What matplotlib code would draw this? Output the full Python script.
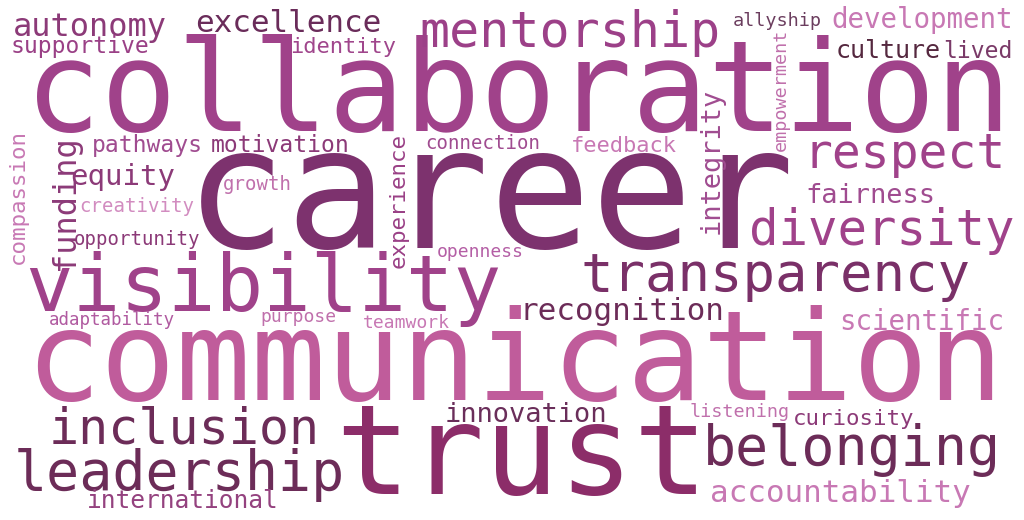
import matplotlib
matplotlib.use("Agg")
import matplotlib.pyplot as plt

DPI = 100
W, H = 1024, 520

# words and their weight (rendered em size in px)
words = ["collaboration", "career", "communication", "trust", "visibility",
         "mentorship", "transparency", "diversity", "respect", "belonging",
         "leadership", "inclusion", "autonomy", "excellence", "recognition",
         "funding", "accountability", "innovation", "equity", "development",
         "integrity", "fairness", "scientific", "culture", "international",
         "supportive", "identity", "pathways", "motivation", "feedback",
         "lived", "compassion", "experience", "curiosity", "connection",
         "growth", "creativity", "opportunity", "allyship", "empowerment",
         "openness", "adaptability", "purpose", "teamwork", "listening"]
weights = [126, 169, 125, 124, 79,
           50, 54, 49, 48, 55,
           55, 50, 32, 31, 31,
           32, 31, 27, 29, 27.5,
           27, 27, 27.5, 25, 24.5,
           23, 22, 23, 23, 22,
           23, 22.5, 22.5, 22.5, 19,
           19, 19, 19, 18.5, 18.5,
           18, 17.5, 18, 18, 18.5]

# layout in canvas pixels: word centre x, baseline y (for vertical words: baseline x, centre y)
pos_x = [518, 490, 514, 522, 263,
         570, 775, 882, 905, 852,
         179, 184, 90, 288, 622,
         74, 840, 526, 123, 922,
         719, 870, 922, 888, 183,
         80, 343, 147, 280, 624,
         978, 24, 405, 854, 483,
         257, 137, 137, 777, 786,
         480, 112, 298, 406, 740]
pos_y = [131, 248, 400, 494, 311,
         47, 291, 245, 168, 465,
         490, 443, 36, 32, 320,
         203, 502, 422, 185, 28,
         161, 203, 330, 58, 508,
         53, 53, 152, 152, 152,
         58, 196, 200, 425, 149,
         190, 212, 245, 26, 90,
         257, 325, 322, 328, 417]
vertical = {"funding", "integrity", "compassion", "experience", "empowerment"}

colors = ["#A0428A", "#7D326E", "#C05C9B", "#8C2D69", "#A0428A",
          "#9C4088", "#7A3068", "#A0428A", "#A0428A", "#6C2C58",
          "#6C2C58", "#6C2C58", "#8C3A78", "#6A2C5A", "#6C2C58",
          "#8C3A78", "#C878B4", "#6A2E5A", "#8C3A78", "#C878B4",
          "#A04C90", "#A04C90", "#C878B4", "#55283F", "#94427F",
          "#9A4086", "#A0468C", "#A04C90", "#8C3A78", "#C878B4",
          "#7A3A68", "#C878B4", "#9A4086", "#8C3A78", "#A04C90",
          "#C070AC", "#D28CC0", "#8C3A78", "#6B3D5E", "#C070AC",
          "#B45EA5", "#B05AA0", "#C070AC", "#C878B4", "#C070AC"]

fig = plt.figure(figsize=(W / DPI, H / DPI), dpi=DPI)
ax = fig.add_axes([0, 0, 1, 1])
ax.set_xlim(0, W)
ax.set_ylim(H, 0)
ax.axis("off")

for word, wt, x, y, c in zip(words, weights, pos_x, pos_y, colors):
    ax.text(x, y, word, fontsize=wt * 72 / DPI, color=c,
            family="DejaVu Sans Mono", ha="center", va="baseline",
            rotation=90 if word in vertical else 0, rotation_mode="anchor")

fig.savefig("out.png", dpi=DPI, facecolor="white")
